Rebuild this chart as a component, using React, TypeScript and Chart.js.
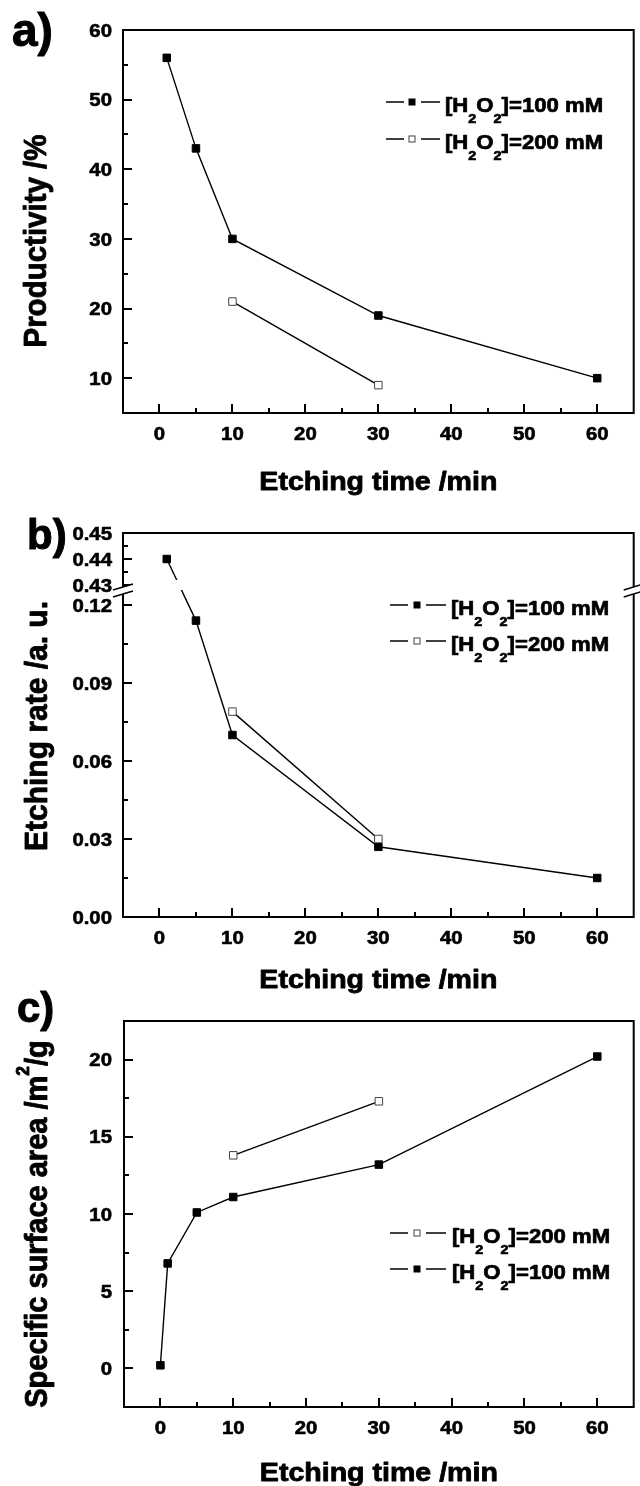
import React, { useEffect, useRef } from 'react';
import { Chart, registerables, LinearScale } from 'chart.js';

Chart.register(...registerables);

// ---------- data ----------
const X_TICKS = [0, 10, 20, 30, 40, 50, 60];
const X_MINOR = [5, 15, 25, 35, 45, 55];

// panel a – productivity
const A_X_100 = [1, 5, 10, 30, 60];
const A_Y_100 = [56, 43, 30, 19, 10];
const A_X_200 = [10, 30];
const A_Y_200 = [21, 9];
const A_Y_TICKS = [10, 20, 30, 40, 50, 60];
const A_Y_MINOR = [15, 25, 35, 45, 55];

// panel b – etching rate (broken axis)
const B_X_100 = [1, 5, 10, 30, 60];
const B_Y_100 = [0.44, 0.114, 0.07, 0.027, 0.015];
const B_X_200 = [10, 30];
const B_Y_200 = [0.079, 0.03];
const B_Y_TICKS = [0, 0.03, 0.06, 0.09, 0.12, 0.43, 0.44, 0.45];
const B_Y_MINOR = [0.015, 0.045, 0.075, 0.105, 0.435, 0.445];
const B_BREAK_LOW = 0.1254;
const B_BREAK_HIGH = 0.4277;

// panel c – specific surface area
const C_X_100 = [0, 1, 5, 10, 30, 60];
const C_Y_100 = [0.2, 6.8, 10.1, 11.1, 13.2, 20.2];
const C_X_200 = [10, 30];
const C_Y_200 = [13.8, 17.3];
const C_Y_TICKS = [0, 5, 10, 15, 20];
const C_Y_MINOR = [2.5, 7.5, 12.5, 17.5];

const LABEL_100 = ']=100 mM';
const LABEL_200 = ']=200 mM';

// ---------- broken scale ----------
function brk(v: number) {
  if (v <= B_BREAK_LOW) return v;
  if (v >= B_BREAK_HIGH) return v - (B_BREAK_HIGH - B_BREAK_LOW);
  return B_BREAK_LOW;
}
class BrokenLinearScale extends LinearScale {
  static id = 'brokenLinear';
  getPixelForValue(value: number) {
    const a = brk(this.min as number);
    const b = brk(this.max as number);
    return this.getPixelForDecimal((brk(value) - a) / (b - a));
  }
}
Chart.register(BrokenLinearScale as any);

// ---------- text helper ----------
const FONT = '"Liberation Sans", Arial, Helvetica, sans-serif';
type Seg = { t: string; k?: 'sub' | 'sup' };

function drawRich(
  ctx: CanvasRenderingContext2D,
  segs: Seg[],
  x: number,
  y: number,
  F: number,
  align: 'left' | 'center' | 'right',
  sx = 1,
  sy = 1,
  rot = 0,
  weight = 0.6
) {
  ctx.save();
  ctx.translate(x, y);
  if (rot) ctx.rotate(rot);
  ctx.scale(sx, sy);
  const parts = segs.map((s) => {
    const size = s.k === 'sub' ? F * 0.65 : s.k === 'sup' ? F * 0.6 : F;
    ctx.font = `bold ${size}px ${FONT}`;
    return { ...s, size, w: ctx.measureText(s.t).width };
  });
  const total = parts.reduce((a, p) => a + p.w, 0);
  let cx = align === 'left' ? 0 : align === 'center' ? -total / 2 : -total;
  ctx.fillStyle = '#000';
  ctx.strokeStyle = '#000';
  ctx.lineWidth = weight;
  ctx.lineJoin = 'round';
  ctx.textBaseline = 'alphabetic';
  ctx.textAlign = 'left';
  for (const p of parts) {
    ctx.font = `bold ${p.size}px ${FONT}`;
    const dy = p.k === 'sub' ? F * 0.58 : p.k === 'sup' ? -F * 0.58 : 0;
    ctx.fillText(p.t, cx, dy);
    if (weight > 0) ctx.strokeText(p.t, cx, dy);
    cx += p.w;
  }
  ctx.restore();
}

// ---------- panel spec ----------
interface LegendRow { filled: boolean; label: string; y: number }
interface Spec {
  padding: { left: number; right: number; top: number; bottom: number };
  yType: string;
  yMin: number;
  yMax: number;
  yTicks: number[];
  yMinor: number[];
  yFmt: (v: number) => string;
  letter: string; letterX: number; letterBase: number; letterSize: number;
  yTitle: Seg[]; yTitleX: number; yTitleY: number; yTitleSize: number;
  xTitleBase: number;
  legend: LegendRow[];
  seg1: [number, number]; markerX: number; seg2: [number, number]; textX: number;
  broken?: boolean;
  sets: { xs: number[]; ys: number[]; filled: boolean }[];
}

const TICK_F = 18.5;
const TICK_SX = 1.1;

function squareMarker(ctx: CanvasRenderingContext2D, x: number, y: number, s: number, filled: boolean) {
  ctx.save();
  ctx.fillStyle = filled ? '#000' : '#fff';
  ctx.fillRect(x - s / 2, y - s / 2, s, s);
  ctx.strokeStyle = filled ? '#000' : '#444';
  ctx.lineWidth = 1;
  ctx.strokeRect(x - s / 2, y - s / 2, s, s);
  ctx.restore();
}

function makePlugin(spec: Spec) {
  return {
    id: 'decor',
    afterDatasetsDraw(chart: any) {
      if (!spec.broken) return;
      const ctx = chart.ctx as CanvasRenderingContext2D;
      const { left, right } = chart.chartArea;
      const bp = chart.scales.y.getPixelForValue(B_BREAK_LOW);
      ctx.save();
      ctx.fillStyle = '#fff';
      ctx.fillRect(left + 2, bp - 11, right - left - 4, 10);
      ctx.restore();
    },
    afterDraw(chart: any) {
      const ctx = chart.ctx as CanvasRenderingContext2D;
      const { left, right, top, bottom } = chart.chartArea;
      const xs = chart.scales.x;
      const ys = chart.scales.y;
      ctx.save();
      ctx.strokeStyle = '#000';
      ctx.lineWidth = 2;
      ctx.strokeRect(left, top, right - left, bottom - top);
      ctx.beginPath();
      for (const v of X_TICKS) {
        const p = Math.round(xs.getPixelForValue(v));
        ctx.moveTo(p, bottom);
        ctx.lineTo(p, bottom - 9);
      }
      for (const v of X_MINOR) {
        const p = Math.round(xs.getPixelForValue(v));
        ctx.moveTo(p, bottom);
        ctx.lineTo(p, bottom - 5);
      }
      for (const v of spec.yTicks) {
        const p = Math.round(ys.getPixelForValue(v));
        ctx.moveTo(left, p);
        ctx.lineTo(left + 9, p);
      }
      for (const v of spec.yMinor) {
        const p = Math.round(ys.getPixelForValue(v));
        ctx.moveTo(left, p);
        ctx.lineTo(left + 5, p);
      }
      ctx.stroke();
      ctx.restore();

      // break marks
      if (spec.broken) {
        const yb = ys.getPixelForValue(B_BREAK_LOW) - 1;
        for (const ax of [left, right]) {
          ctx.save();
          ctx.fillStyle = '#fff';
          ctx.beginPath();
          ctx.moveTo(ax - 10, yb);
          ctx.lineTo(ax + 10, yb - 6);
          ctx.lineTo(ax + 10, yb + 1);
          ctx.lineTo(ax - 10, yb + 7);
          ctx.closePath();
          ctx.fill();
          ctx.strokeStyle = '#000';
          ctx.lineWidth = 1.5;
          ctx.beginPath();
          ctx.moveTo(ax - 10, yb);
          ctx.lineTo(ax + 10, yb - 6);
          ctx.moveTo(ax - 10, yb + 7);
          ctx.lineTo(ax + 10, yb + 1);
          ctx.stroke();
          ctx.restore();
        }
      }

      // tick labels
      for (const v of X_TICKS) {
        const p = xs.getPixelForValue(v);
        drawRich(ctx, [{ t: String(v) }], p, bottom + 20.5 + TICK_F * 0.358, TICK_F, 'center', TICK_SX);
      }
      for (const v of spec.yTicks) {
        const p = ys.getPixelForValue(v);
        drawRich(ctx, [{ t: spec.yFmt(v) }], 112, p + TICK_F * 0.358, TICK_F, 'right', TICK_SX);
      }

      // axis titles
      drawRich(ctx, [{ t: 'Etching time /min' }], (left + right) / 2, spec.xTitleBase, 25.5, 'center', 1.12, 1, 0, 0.8);
      drawRich(ctx, spec.yTitle, spec.yTitleX, spec.yTitleY, spec.yTitleSize, 'center', 1, 1.05, -Math.PI / 2, 0.8);

      // panel letter
      drawRich(ctx, [{ t: spec.letter }], spec.letterX, spec.letterBase, spec.letterSize, 'left', 1, 1, 0, 1);

      // legend
      for (const row of spec.legend) {
        ctx.save();
        ctx.strokeStyle = '#000';
        ctx.lineWidth = 1.3;
        ctx.beginPath();
        ctx.moveTo(spec.seg1[0], row.y);
        ctx.lineTo(spec.seg1[1], row.y);
        ctx.moveTo(spec.seg2[0], row.y);
        ctx.lineTo(spec.seg2[1], row.y);
        ctx.stroke();
        ctx.restore();
        squareMarker(ctx, spec.markerX, row.y, 6, row.filled);
        drawRich(
          ctx,
          [{ t: '[H' }, { t: '2', k: 'sub' }, { t: 'O' }, { t: '2', k: 'sub' }, { t: row.label }],
          spec.textX,
          row.y + 9.5,
          20.5,
          'left',
          1.08,
          1,
          0,
          0.7
        );
      }
    },
  };
}

function dataset(xs: number[], ys: number[], filled: boolean) {
  return {
    data: xs.map((x, i) => ({ x, y: ys[i] })),
    borderColor: '#000',
    borderWidth: 1.4,
    pointStyle: 'rect',
    pointRadius: 5.3,
    pointBackgroundColor: filled ? '#000' : '#fff',
    pointBorderColor: filled ? '#000' : '#444',
    pointBorderWidth: 1,
    tension: 0,
    fill: false,
  };
}

function buildConfig(spec: Spec): any {
  return {
    type: 'line',
    data: { datasets: spec.sets.map((s) => dataset(s.xs, s.ys, s.filled)) },
    options: {
      animation: false,
      responsive: false,
      devicePixelRatio: 1,
      events: [],
      layout: { padding: spec.padding },
      plugins: { legend: { display: false }, tooltip: { enabled: false } },
      scales: {
        x: { type: 'linear', min: -5, max: 65, display: false },
        y: { type: spec.yType, min: spec.yMin, max: spec.yMax, display: false },
      },
    },
    plugins: [makePlugin(spec)],
  };
}

const H = 1486;

const SPEC_A: Spec = {
  padding: { left: 123, right: 1, top: 30, bottom: H - 413 },
  yType: 'linear', yMin: 5, yMax: 60,
  yTicks: A_Y_TICKS, yMinor: A_Y_MINOR, yFmt: (v) => String(v),
  letter: 'a)', letterX: 12, letterBase: 46, letterSize: 46,
  yTitle: [{ t: 'Productivity /%' }], yTitleX: 46, yTitleY: 241, yTitleSize: 29.5,
  xTitleBase: 490,
  legend: [
    { filled: true, label: LABEL_100, y: 102 },
    { filled: false, label: LABEL_200, y: 139 },
  ],
  seg1: [386, 404], markerX: 412, seg2: [421, 440], textX: 445,
  sets: [
    { xs: A_X_200, ys: A_Y_200, filled: false },
    { xs: A_X_100, ys: A_Y_100, filled: true },
  ],
};

const SPEC_B: Spec = {
  padding: { left: 123, right: 1, top: 533, bottom: H - 917 },
  yType: 'brokenLinear', yMin: 0, yMax: 0.45,
  yTicks: B_Y_TICKS, yMinor: B_Y_MINOR, yFmt: (v) => v.toFixed(2),
  letter: 'b)', letterX: 27, letterBase: 548.5, letterSize: 42,
  yTitle: [{ t: 'Etching rate /a. u.' }], yTitleX: 47, yTitleY: 726, yTitleSize: 30,
  xTitleBase: 988,
  legend: [
    { filled: true, label: LABEL_100, y: 605 },
    { filled: false, label: LABEL_200, y: 641 },
  ],
  seg1: [390, 408], markerX: 417, seg2: [426, 446], textX: 451,
  broken: true,
  sets: [
    { xs: B_X_200, ys: B_Y_200, filled: false },
    { xs: B_X_100, ys: B_Y_100, filled: true },
  ],
};

const SPEC_C: Spec = {
  padding: { left: 124, right: 1, top: 1021, bottom: H - 1407 },
  yType: 'linear', yMin: -2.5, yMax: 22.5,
  yTicks: C_Y_TICKS, yMinor: C_Y_MINOR, yFmt: (v) => String(v),
  letter: 'c)', letterX: 17, letterBase: 1022, letterSize: 42,
  yTitle: [{ t: 'Specific surface area /m' }, { t: '2', k: 'sup' }, { t: '/g' }],
  yTitleX: 47, yTitleY: 1224, yTitleSize: 29,
  xTitleBase: 1481,
  legend: [
    { filled: false, label: LABEL_200, y: 1233 },
    { filled: true, label: LABEL_100, y: 1269 },
  ],
  seg1: [390, 408], markerX: 417, seg2: [426, 446], textX: 452,
  sets: [
    { xs: C_X_200, ys: C_Y_200, filled: false },
    { xs: C_X_100, ys: C_Y_100, filled: true },
  ],
};

function Panel({ spec }: { spec: Spec }) {
  const ref = useRef<HTMLCanvasElement>(null);
  useEffect(() => {
    const chart = new Chart(ref.current as HTMLCanvasElement, buildConfig(spec));
    return () => chart.destroy();
  }, [spec]);
  return (
    <canvas
      ref={ref}
      width={640}
      height={H}
      style={{ position: 'absolute', left: 0, top: 0, width: 640, height: H }}
    />
  );
}

export default function App() {
  return (
    <div style={{ position: 'relative', width: 640, height: H, background: '#fff', overflow: 'hidden' }}>
      <style>{'html,body{margin:0;padding:0;background:#fff;}'}</style>
      <Panel spec={SPEC_A} />
      <Panel spec={SPEC_B} />
      <Panel spec={SPEC_C} />
    </div>
  );
}
